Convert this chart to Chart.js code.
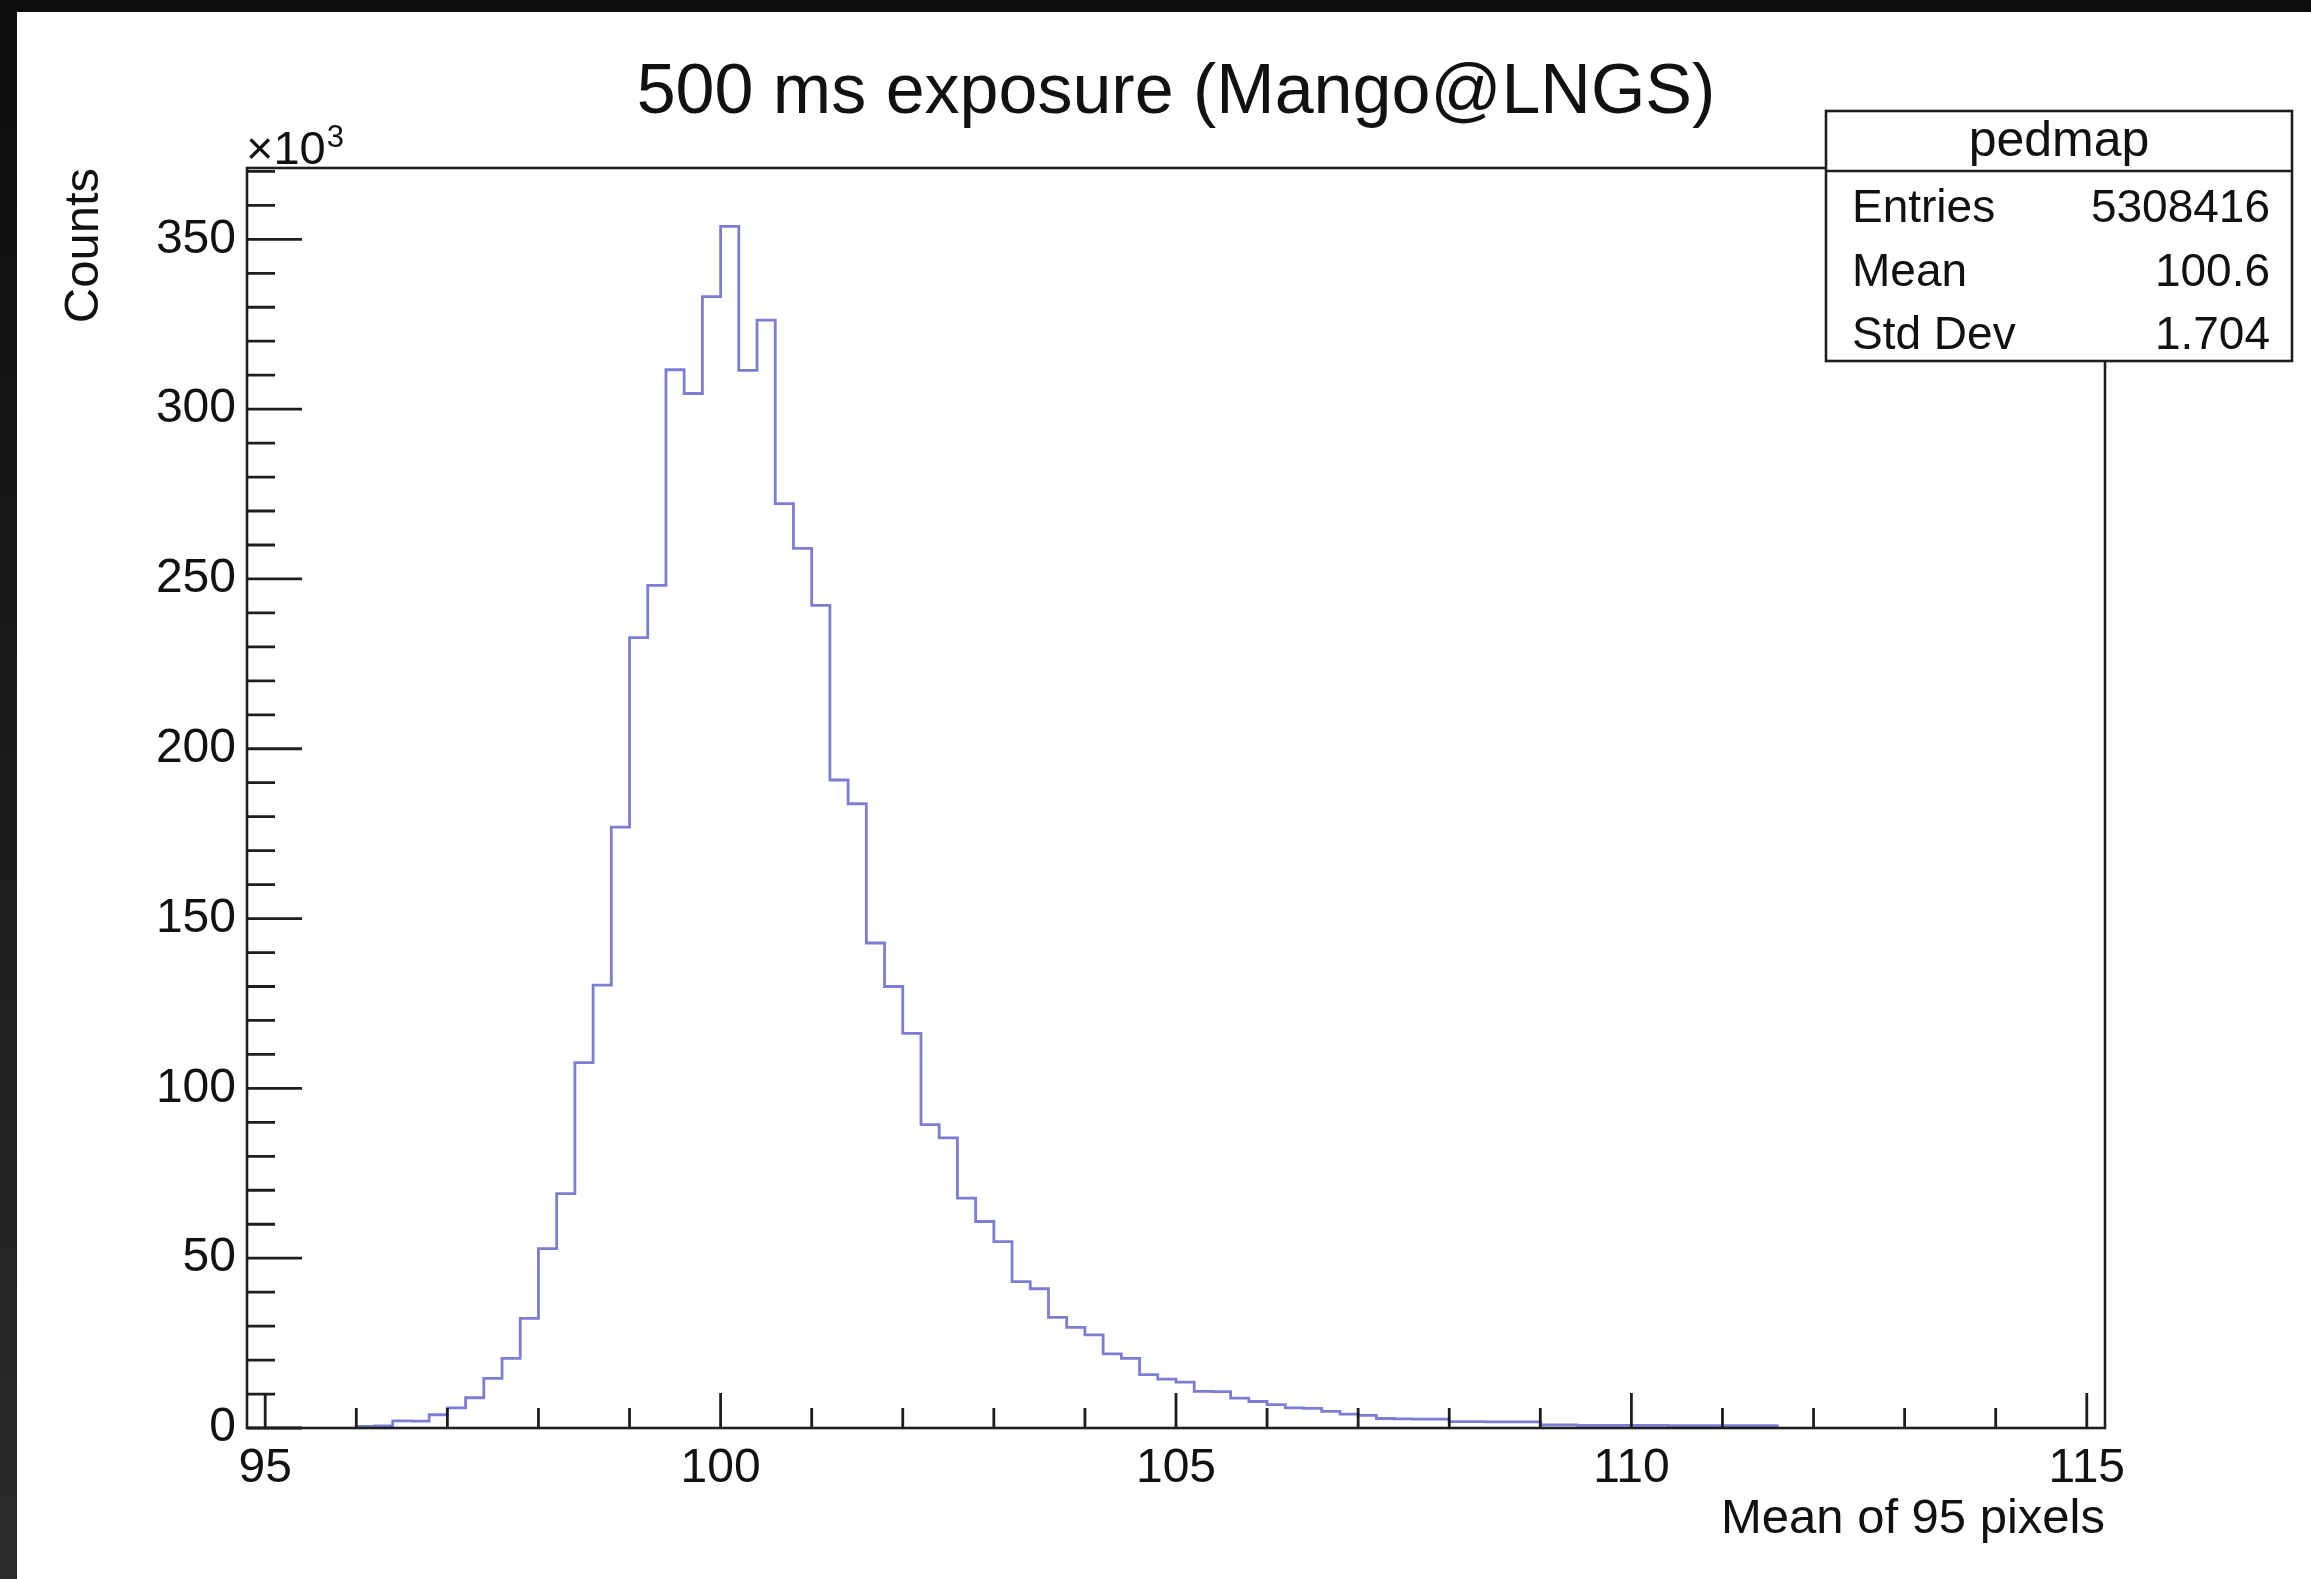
<!DOCTYPE html>
<html>
<head>
<meta charset="utf-8">
<script src="https://cdn.jsdelivr.net/npm/chart.js@4/dist/chart.umd.min.js"></script>
<style>
  html, body { margin: 0; padding: 0; width: 2311px; height: 1579px; overflow: hidden; }
  body { background: linear-gradient(to bottom, #0d0d0d, #2b2b2b); position: relative; }
  #pad { position: absolute; left: 17px; top: 12px; width: 2294px; height: 1567px; background: #ffffff; }
  canvas { display: block; }
</style>
</head>
<body>
<div id="pad"><canvas id="hist" width="2294" height="1567"></canvas></div>
<script>
// ---- histogram definition -------------------------------------------------
const histTitle = '500 ms exposure (Mango@LNGS)';
const histName = 'pedmap';
const xTitle = 'Mean of 95 pixels';
const yTitle = 'Counts';
const yMultiplier = '\u00d710';
const yExponent = '3';

const xRange = [94.8, 115.2];
const yRange = [0, 371];          // in units of 10^3 counts

const firstBinEdge = 96.0;        // low edge of the first filled bin
const binWidth = 0.2;

// counts per bin (x10^3), starting at firstBinEdge
const countsK = [
  0.5, 0.6, 2.1, 2.0, 3.9, 5.9, 8.9, 14.6, 20.5, 32.3,
  52.8, 69.0, 107.6, 130.4, 176.9, 232.7, 248.1, 311.6, 304.6, 333.1,
  353.8, 311.4, 326.2, 272.2, 259.0, 242.2, 190.8, 183.8, 142.8, 130.0,
  116.2, 89.3, 85.4, 67.7, 60.8, 54.9, 43.1, 41.0, 32.6, 29.6,
  27.4, 21.8, 20.5, 15.7, 14.4, 13.5, 10.8, 10.7, 8.8, 7.8,
  6.9, 5.9, 5.8, 4.9, 4.1, 3.7, 2.8, 2.7, 2.6, 2.6,
  1.9, 1.9, 1.8, 1.8, 1.8, 0.9, 0.9, 0.8, 0.8, 0.8,
  0.8, 0.8, 0.7, 0.7, 0.7, 0.7, 0.7, 0.7
];

const xTickLabels = ['95', '100', '105', '110', '115'];
const yTickLabels = ['0', '50', '100', '150', '200', '250', '300', '350'];

const statsLabels = ['Entries', 'Mean', 'Std Dev'];
const statsValues = ['5308416', '100.6', '1.704'];

// ---- styling ---------------------------------------------------------------
const FONT = "'Liberation Sans', Arial, Helvetica, sans-serif";
const INK = '#111111';
const LINE = '#1e1e1e';
const HIST_COLOR = '#7d7dd6';

// tick positions: minor every 1 on x, every 10k on y
const xTickValues = [];
for (let v = 95; v <= 115; v++) xTickValues.push(v);
const yTickValues = [];
for (let v = 0; v <= 370; v += 10) yTickValues.push(v);

// histogram outline: one point per bin low edge, closed down to zero at both ends
const outline = [{ x: firstBinEdge, y: 0 }];
countsK.forEach((c, i) => outline.push({ x: +(firstBinEdge + i * binWidth).toFixed(1), y: c }));
outline.push({ x: +(firstBinEdge + countsK.length * binWidth).toFixed(1), y: 0 });

// frame, inward tick marks, exponent label and statistics box
const rootStyle = {
  id: 'rootStyle',
  afterDatasetsDraw(chart) {
    const { ctx, chartArea: a, scales: { x, y } } = chart;
    ctx.save();
    ctx.strokeStyle = LINE;
    ctx.lineCap = 'butt';

    ctx.lineWidth = 2.6;
    ctx.strokeRect(a.left, a.top, a.right - a.left, a.bottom - a.top);

    ctx.lineWidth = 2.8;
    ctx.beginPath();
    x.ticks.forEach(t => {
      const px = x.getPixelForValue(t.value);
      const len = xTickLabels.includes(String(t.value)) ? 35 : 20;
      ctx.moveTo(px, a.bottom);
      ctx.lineTo(px, a.bottom - len);
    });
    y.ticks.forEach(t => {
      const py = y.getPixelForValue(t.value);
      const len = yTickLabels.includes(String(t.value)) ? 55 : 28;
      ctx.moveTo(a.left, py);
      ctx.lineTo(a.left + len, py);
    });
    ctx.stroke();

    // x10^3 above the y axis
    ctx.fillStyle = INK;
    ctx.textBaseline = 'alphabetic';
    ctx.textAlign = 'left';
    ctx.font = `47px ${FONT}`;
    ctx.fillText(yMultiplier, a.left - 1, a.top - 4);
    const w = ctx.measureText(yMultiplier).width;
    ctx.font = `31px ${FONT}`;
    ctx.fillText(yExponent, a.left - 1 + w + 1, a.top - 21);

    // statistics box
    const bx = 1809, by = 99, bw = 466, bh = 250, hdr = 60, row = 63.3;
    ctx.fillStyle = '#ffffff';
    ctx.fillRect(bx, by, bw, bh);
    ctx.lineWidth = 2.6;
    ctx.strokeRect(bx, by, bw, bh);
    ctx.beginPath();
    ctx.moveTo(bx, by + hdr);
    ctx.lineTo(bx + bw, by + hdr);
    ctx.stroke();

    ctx.fillStyle = INK;
    ctx.textBaseline = 'middle';
    ctx.textAlign = 'center';
    ctx.font = `50px ${FONT}`;
    ctx.fillText(histName, bx + bw / 2, by + hdr / 2 + 1);
    ctx.font = `46px ${FONT}`;
    statsLabels.forEach((lab, i) => {
      const cy = by + hdr + row * (i + 0.5) + 7;
      ctx.textAlign = 'left';
      ctx.fillText(lab, bx + 26, cy);
      ctx.textAlign = 'right';
      ctx.fillText(statsValues[i], bx + bw - 22, cy);
    });
    ctx.restore();
  }
};

new Chart(document.getElementById('hist'), {
  type: 'line',
  data: {
    datasets: [{
      label: histName,
      data: outline,
      stepped: true,
      borderColor: HIST_COLOR,
      borderWidth: 2.8,
      pointRadius: 0,
      fill: false,
      tension: 0,
      clip: 4
    }]
  },
  options: {
    responsive: false,
    animation: false,
    devicePixelRatio: 1,
    layout: { padding: { left: 0, right: 206, top: 0, bottom: 0 } },
    plugins: {
      legend: { display: false },
      tooltip: { enabled: false },
      title: {
        display: true,
        text: histTitle,
        fullSize: false,
        color: INK,
        font: { family: FONT, size: 70, weight: 'normal' },
        padding: { top: 40, bottom: 32 }
      }
    },
    scales: {
      x: {
        type: 'linear',
        min: xRange[0],
        max: xRange[1],
        grid: { display: false, drawTicks: false },
        border: { display: false },
        afterBuildTicks: s => { s.ticks = xTickValues.map(v => ({ value: v })); },
        afterFit: s => { s.height = 151; },
        ticks: {
          autoSkip: false,
          maxRotation: 0,
          padding: 12,
          color: INK,
          font: { family: FONT, size: 48 },
          callback: v => (xTickLabels.includes(String(v)) ? String(v) : '')
        },
        title: {
          display: true,
          text: xTitle,
          align: 'end',
          color: INK,
          font: { family: FONT, size: 49 },
          padding: { top: 0, bottom: 30 }
        }
      },
      y: {
        type: 'linear',
        min: yRange[0],
        max: yRange[1],
        grid: { display: false, drawTicks: false },
        border: { display: false },
        afterBuildTicks: s => { s.ticks = yTickValues.map(v => ({ value: v })); },
        afterFit: s => { s.width = 230; },
        ticks: {
          autoSkip: false,
          padding: 11,
          color: INK,
          font: { family: FONT, size: 48 },
          callback: v => (yTickLabels.includes(String(v)) ? String(v) : '')
        },
        title: {
          display: true,
          text: yTitle,
          align: 'end',
          color: INK,
          font: { family: FONT, size: 49 },
          padding: { top: 38, bottom: 0 }
        }
      }
    }
  },
  plugins: [rootStyle]
});
</script>
</body>
</html>
